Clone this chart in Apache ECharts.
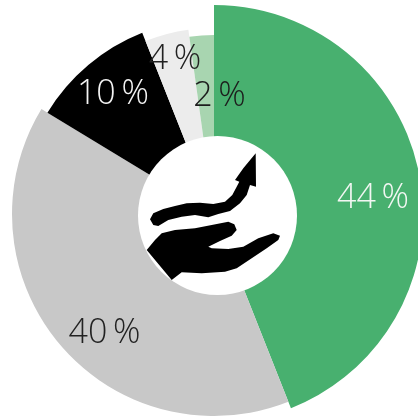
<!DOCTYPE html>
<html><head><meta charset="utf-8">
<style>html,body{margin:0;padding:0;background:#fff}#c{width:418px;height:417px}</style>
<script src="https://cdn.jsdelivr.net/npm/echarts@6/dist/echarts.min.js"></script>
</head><body><div id="c"></div>
<script>
const categories = ['A','B','C','D','E'];
const values = [44,39.7,10.3,3.8,2.2];
const colors = ['#48b06f','#c8c8c8','#000000','#ececec','#a8d5b0'];
const labelColors = ['#f2f7f3','#222222','#f4f4f4','#222222','#1c1c1c'];
const outerRadii = [209,202,195,186,179];
const labelOffsets = [[24,10],[-7,33],[-17,-20],[-7,-33],[14,5]];
const arrowPts = [[255.7,153.3],[256,186.7],[250,185],[246.7,195],[240,203.3],[230,211],[218.3,214],[208.3,217.3],[195,215],[181.7,216.7],[168.3,220],[158.3,226],[153.3,225],[150,219.3],[153.3,213.3],[163.3,209],[175,206],[186.7,203.3],[200,202.7],[213.3,204],[225,201.7],[232.3,195],[236.7,186.7],[239.3,181.7],[235,180],[243.3,168.3]];
const handPts = [[146.7,250],[155,240],[161.7,233.3],[175,230],[195,228.3],[211.7,225],[228.3,221.7],[234.3,224.3],[236.7,230],[231.7,235.7],[220,241],[208.3,246.7],[211.7,248.3],[228.3,249],[243.3,246.7],[258.3,238.3],[273.3,233.3],[280,235.7],[278.3,240],[266.7,248.3],[251.7,258.3],[236.7,268.3],[225,271.7],[201.7,273.3],[181.7,272.3],[171.7,280]];
const chart = echarts.init(document.getElementById('c'),null,{renderer:'canvas'});
const series = categories.map((name,i)=>({
  type:'pie',center:[214,214],radius:[60,outerRadii[i]],startAngle:90,clockwise:true,
  silent:true,animation:false,avoidLabelOverlap:false,labelLine:{show:false},labelLayout:{hideOverlap:false},
  data:categories.map((n,j)=>({
    name:n,value:values[j],
    itemStyle:{color:j===i?colors[j]:'transparent'},
    label:j===i?{show:true,position:'inside',offset:labelOffsets[j],
      formatter:p=>Math.round(p.value)+'\u2009%',color:labelColors[j],
      fontFamily:'Open Sans',fontWeight:300,fontSize:34}:{show:false}
  }))
}));
chart.setOption({
  animation:false,
  series,
  graphic:[
    {type:'circle',z:100,shape:{cx:217.5,cy:215.5,r:79.5},style:{fill:'#fff'}},
    {type:'polygon',z:101,shape:{points:arrowPts},style:{fill:'#000'}},
    {type:'polygon',z:101,shape:{points:handPts},style:{fill:'#000'}}
  ]
});
</script></body></html>
